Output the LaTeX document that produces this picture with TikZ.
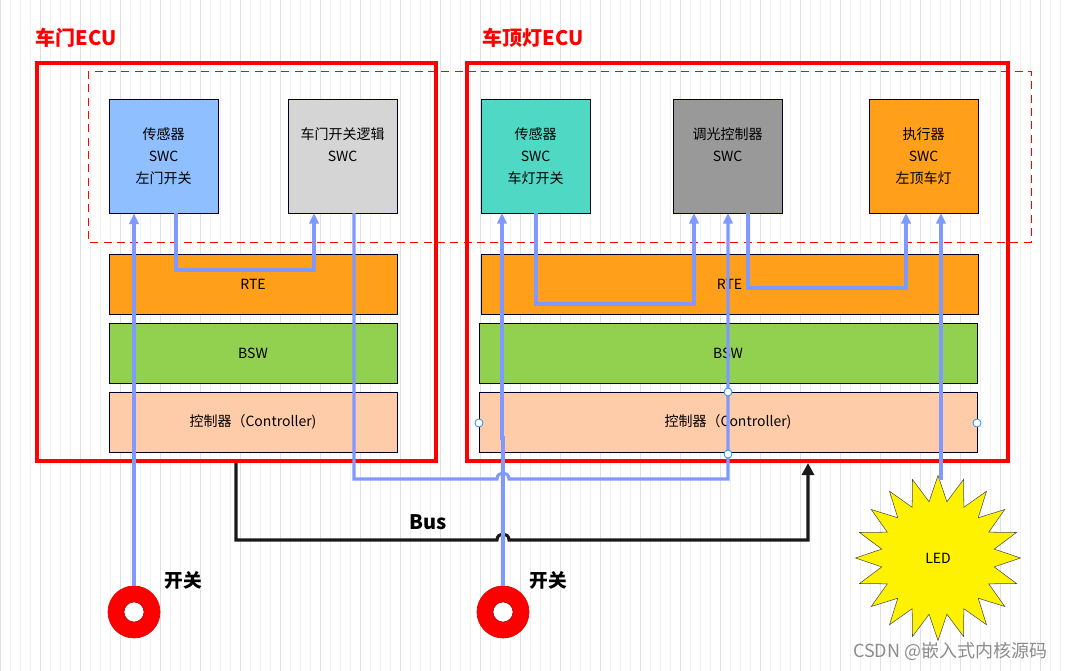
\documentclass[tikz,border=0pt]{standalone}
\usepackage{fontspec}
\setmainfont{Noto Sans CJK SC}
\usetikzlibrary{shapes.geometric,arrows.meta}
\begin{document}
\begin{tikzpicture}[x=0.75pt,y=-0.75pt,
  box/.style={draw=black!85!blue,line width=0.6pt,inner sep=0pt,align=center,font=\fontsize{10.5}{16.5}\selectfont},
  ecu/.style={draw=red,line width=2.3pt},
  wire/.style={color={rgb,255:red,127;green,153;blue,255},line width=2.3pt},
  arr/.style={-{Triangle[width=7pt,length=8pt]}},
  dot/.style={circle,draw={rgb,255:red,30;green,144;blue,255},fill=white,inner sep=0pt,minimum size=6pt,line width=0.6pt},
  ttl/.style={text=red,font=\fontsize{15}{18}\selectfont\bfseries,anchor=west},
  lbl/.style={font=\fontsize{14}{16}\selectfont\bfseries}]
\useasboundingbox (0,0) rectangle (1065,671);
\fill[white] (0,0) rectangle (1065,671);
\draw[black!6,line width=0.4pt] (0,0) grid[step=10] (1065,671);
\draw[black!12,line width=0.5pt] (0,0) grid[step=40] (1065,671);
% ECUs
\draw[ecu] (37,63) rectangle (436,461);
\draw[ecu] (467,63) rectangle (1008,461);
\draw[red,dashed,line width=0.6pt,dash pattern=on 6pt off 4pt] (88,71) rectangle (1031,242);
\node[ttl] (t1) at (31,38) {车门ECU};
\node[ttl] (t2) at (478,38) {车顶灯ECU};
% left ECU
\node[box,fill={rgb,255:red,143;green,191;blue,255},minimum width=109*0.75pt,minimum height=114*0.75pt] (ls) at (163.5,156) {传感器\\SWC\\左门开关};
\node[box,fill={rgb,255:red,213;green,213;blue,213},minimum width=109*0.75pt,minimum height=114*0.75pt] (ll) at (342.5,156) {车门开关逻辑\\SWC\\\ };
\node[box,fill={rgb,255:red,255;green,159;blue,26},minimum width=288*0.75pt,minimum height=60*0.75pt] (lrte) at (253,284) {RTE};
\node[box,fill={rgb,255:red,146;green,208;blue,80},minimum width=288*0.75pt,minimum height=60*0.75pt] (lbsw) at (253,353) {BSW};
\node[box,fill={rgb,255:red,255;green,204;blue,170},minimum width=288*0.75pt,minimum height=60*0.75pt] (lctl) at (253,422) {控制器（Controller)};
% right ECU
\node[box,fill={rgb,255:red,79;green,216;blue,196},minimum width=109*0.75pt,minimum height=114*0.75pt] (rs) at (535.5,156) {传感器\\SWC\\车灯开关};
\node[box,fill={rgb,255:red,153;green,153;blue,153},minimum width=109*0.75pt,minimum height=114*0.75pt] (rd) at (727.5,156) {调光控制器\\SWC\\\ };
\node[box,fill={rgb,255:red,255;green,159;blue,26},minimum width=109*0.75pt,minimum height=114*0.75pt] (ra) at (923.5,156) {执行器\\SWC\\左顶车灯};
\node[box,fill={rgb,255:red,255;green,159;blue,26},minimum width=497*0.75pt,minimum height=60*0.75pt] (rrte) at (729.5,284) {RTE};
\node[box,fill={rgb,255:red,146;green,208;blue,80},minimum width=498*0.75pt,minimum height=60*0.75pt] (rbsw) at (728,353) {BSW};
\node[box,fill={rgb,255:red,255;green,204;blue,170},minimum width=498*0.75pt,minimum height=60*0.75pt] (rctl) at (728,422) {控制器（Controller)};
% switches
\node[circle,draw=red!90!black,line width=0.5pt,fill=red,minimum size=52*0.75pt,inner sep=0pt] (sw1) at (134,612) {};
\node[circle,draw=red!60!black,fill=white,minimum size=20*0.75pt,inner sep=0pt] at (sw1) {};
\node[circle,draw=red!90!black,line width=0.5pt,fill=red,minimum size=52*0.75pt,inner sep=0pt] (sw2) at (503,612) {};
\node[circle,draw=red!60!black,fill=white,minimum size=20*0.75pt,inner sep=0pt] at (sw2) {};
\node[lbl] (k1) at (183,580) {开关};
\node[lbl] (k2) at (548,580) {开关};
% LED
\node[star,star points=20,star point ratio=1.45,draw=black!70,fill=yellow,minimum size=165*0.75pt,inner sep=0pt,font=\fontsize{10.5}{12}\selectfont] (led) at (938,558) {LED};
% bus
\draw[line width=2.3pt,black!90,-{Triangle[width=9pt,length=9pt]}] (236,463) -- (236,540) -- (497,540) .. controls (497,532) and (509,532) .. (509,540) -- (808,540) -- (808,463);
\node[font=\fontsize{15}{18}\selectfont\bfseries] (bus) at (428,522) {Bus};
% wires
\draw[wire,arr] (sw1.north) -- (ls.south -| sw1.north);
\draw[wire,arr] (176,213) -- (176,270) -- (314,270) -- (314,213);
\draw[wire,arr] (354,213) -- (354,479) -- (497,479) .. controls (497,471) and (509,471) .. (509,479) -- (728,479) -- (728,213);
\draw[wire,arr] (sw2.north) -- (503,438) -- (502,438) -- (502,213);
\draw[wire,arr] (536,213) -- (536,304) -- (694,304) -- (694,213);
\draw[wire,arr] (748,213) -- (748,288) -- (906,288) -- (906,213);
\draw[wire,arr] (941,480) -- (941,213);
% connection dots
\node[dot] at (479,423) {};
\node[dot] at (977,423) {};
\node[dot] at (728,392) {};
\node[dot] at (728,454) {};
\node[text=black!45,font=\fontsize{13.5}{15}\selectfont,anchor=east] (wm) at (1052,651) {CSDN @嵌入式内核源码};
\end{tikzpicture}
\end{document}
